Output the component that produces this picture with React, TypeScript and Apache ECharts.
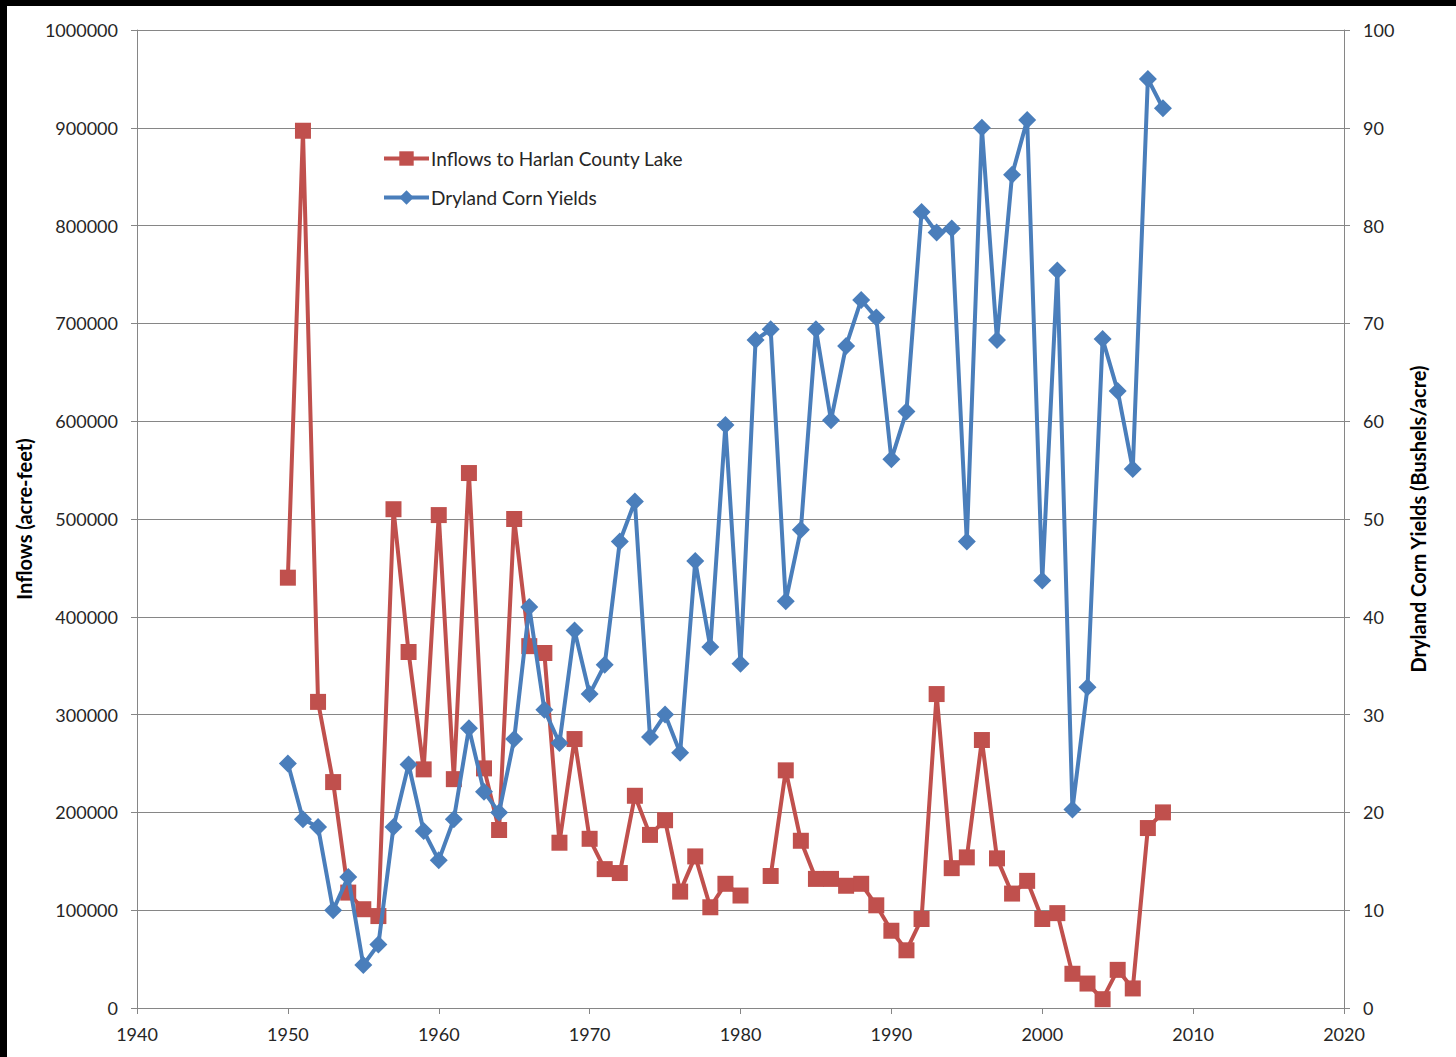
import React, { useEffect, useRef } from "react";
import * as echarts from "echarts";

const years: number[] = [
  1950, 1951, 1952, 1953, 1954, 1955, 1956, 1957, 1958, 1959,
  1960, 1961, 1962, 1963, 1964, 1965, 1966, 1967, 1968, 1969,
  1970, 1971, 1972, 1973, 1974, 1975, 1976, 1977, 1978, 1979,
  1980, 1981, 1982, 1983, 1984, 1985, 1986, 1987, 1988, 1989,
  1990, 1991, 1992, 1993, 1994, 1995, 1996, 1997, 1998, 1999,
  2000, 2001, 2002, 2003, 2004, 2005, 2006, 2007, 2008,
];

const inflows: (number | null)[] = [
  440000, 897000, 313000, 231000, 118000, 101000, 94000, 510000, 364000, 244000,
  504000, 234000, 547000, 245000, 182000, 500000, 370000, 363000, 169000, 275000,
  173000, 142000, 138000, 217000, 177000, 192000, 119000, 155000, 103000, 127000,
  115000, null, 135000, 243000, 171000, 132000, 132000, 125000, 127000, 105000,
  79000, 59000, 91000, 321000, 143000, 154000, 274000, 153000, 117000, 130000,
  91000, 97000, 35000, 25000, 9000, 39000, 20000, 184000, 200000,
];

const cornYields: number[] = [
  25.0, 19.3, 18.5, 10.0, 13.4, 4.4, 6.5, 18.5, 24.9, 18.1,
  15.1, 19.3, 28.6, 22.1, 20.0, 27.5, 41.0, 30.5, 27.1, 38.6,
  32.1, 35.1, 47.7, 51.8, 27.7, 30.0, 26.1, 45.7, 36.9, 59.6,
  35.2, 68.3, 69.4, 41.6, 48.9, 69.4, 60.1, 67.7, 72.4, 70.6,
  56.1, 61.0, 81.4, 79.3, 79.7, 47.7, 90.0, 68.3, 85.2, 90.8,
  43.7, 75.4, 20.3, 32.8, 68.4, 63.1, 55.1, 95.0, 92.0,
];

const seriesNames = ["Inflows to Harlan County Lake", "Dryland Corn Yields"];
const leftAxisTitle = "Inflows (acre-feet)";
const rightAxisTitle = "Dryland Corn Yields (Bushels/acre)";

const RED = "#C0504D";
const BLUE = "#4A7EBB";
const GRID = "#868686";
const FONT = "Lato, 'Open Sans', sans-serif";
const plain = (v: number) => String(v);

export default function App() {
  const ref = useRef<HTMLDivElement>(null);

  useEffect(() => {
    if (!ref.current) return;
    const chart = echarts.init(ref.current, undefined, { renderer: "svg" });

    const redData = years.map((y, i) => [y, inflows[i]]);
    const blueData = years.map((y, i) => [y, cornYields[i]]);

    chart.setOption({
      animation: false,
      backgroundColor: "#ffffff",
      textStyle: { fontFamily: FONT },
      grid: { left: 137, right: 112, top: 30, bottom: 49, containLabel: false },
      legend: {
        orient: "vertical",
        left: 382,
        top: 149,
        padding: 0,
        itemWidth: 45,
        itemHeight: 18,
        itemGap: 20,
        data: seriesNames,
        lineStyle: { width: 4 },
        textStyle: { fontFamily: FONT, fontSize: 19, color: "#262626", padding: [0, 0, 0, -3] },
      },
      xAxis: {
        type: "value",
        min: 1940,
        max: 2020,
        interval: 10,
        axisLine: { show: true, lineStyle: { color: GRID, width: 1 } },
        axisTick: { show: true, length: 6, lineStyle: { color: GRID } },
        splitLine: { show: false },
        axisLabel: { fontFamily: FONT, fontSize: 18, color: "#262626", margin: 17, formatter: plain },
      },
      yAxis: [
        {
          type: "value",
          min: 0,
          max: 1000000,
          interval: 100000,
          position: "left",
          name: leftAxisTitle,
          nameLocation: "middle",
          nameRotate: 90,
          nameGap: 96,
          nameTextStyle: { fontFamily: FONT, fontSize: 20, fontWeight: "bold", color: "#000" },
          axisLine: { show: true, lineStyle: { color: GRID, width: 1 } },
          axisTick: { show: true, length: 6, lineStyle: { color: GRID } },
          splitLine: { show: true, lineStyle: { color: GRID, width: 1 } },
          axisLabel: { fontFamily: FONT, fontSize: 18, color: "#262626", margin: 19, formatter: plain },
        },
        {
          type: "value",
          min: 0,
          max: 100,
          interval: 10,
          position: "right",
          name: rightAxisTitle,
          nameLocation: "middle",
          nameRotate: 90,
          nameGap: 64,
          nameTextStyle: { fontFamily: FONT, fontSize: 20, fontWeight: "bold", color: "#000" },
          axisLine: { show: true, lineStyle: { color: GRID, width: 1 } },
          axisTick: { show: true, length: 6, lineStyle: { color: GRID } },
          splitLine: { show: false },
          axisLabel: { fontFamily: FONT, fontSize: 18, color: "#262626", margin: 19, formatter: plain },
        },
      ],
      series: [
        {
          name: seriesNames[0],
          type: "line",
          yAxisIndex: 0,
          data: redData,
          connectNulls: false,
          symbol: "rect",
          symbolSize: 16,
          showAllSymbol: true,
          lineStyle: { color: RED, width: 4 },
          itemStyle: { color: RED },
          z: 2,
        },
        {
          name: seriesNames[1],
          type: "line",
          yAxisIndex: 1,
          data: blueData,
          symbol: "diamond",
          symbolSize: 18,
          showAllSymbol: true,
          lineStyle: { color: BLUE, width: 4 },
          itemStyle: { color: BLUE },
          z: 3,
        },
      ],
      graphic: [
        { type: "rect", left: 0, top: 0, shape: { width: 1456, height: 6 }, style: { fill: "#000" }, z: 100 },
        { type: "rect", left: 0, top: 0, shape: { width: 7, height: 1057 }, style: { fill: "#000" }, z: 100 },
      ],
    });

    return () => chart.dispose();
  }, []);

  return (
    <div
      ref={ref}
      style={{ position: "fixed", left: 0, top: 0, width: 1456, height: 1057 }}
    />
  );
}
